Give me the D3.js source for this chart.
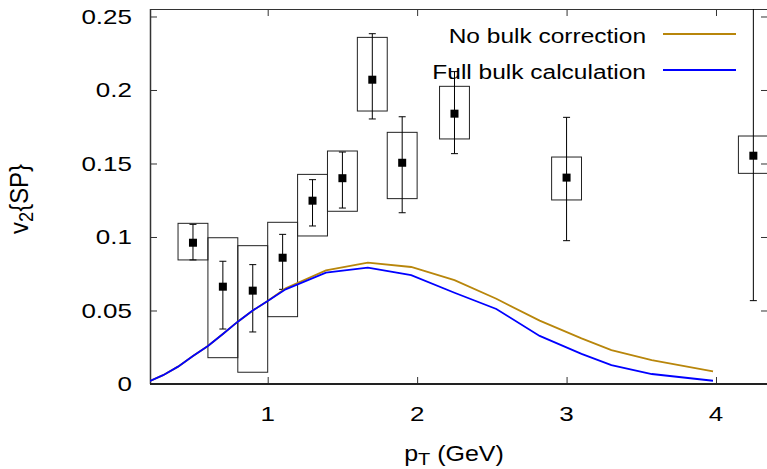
<!DOCTYPE html>
<html><head><meta charset="utf-8">
<script src="https://cdn.jsdelivr.net/npm/d3@7"></script>
<style>body{margin:0;background:#fff} text{font-family:"Liberation Sans",Arial,Helvetica,sans-serif;fill:#000}</style>
</head><body><svg id="c" width="767" height="469"></svg>
<script>
// ---- data ----
const ptData   = [0.5, 0.7, 0.9, 1.1, 1.3, 1.5, 1.7, 1.9, 2.25, 3.0, 4.25];
const v2Data   = [0.0961, 0.0662, 0.0635, 0.0859, 0.1247, 0.1400, 0.2070, 0.1505, 0.1839, 0.1404, 0.1553];
const statLo   = [0.0844, 0.0374, 0.0354, 0.0644, 0.1075, 0.1197, 0.1803, 0.1165, 0.1567, 0.0975, 0.0567];
const statHi   = [0.1086, 0.0835, 0.0812, 0.1018, 0.1390, 0.1578, 0.2383, 0.1818, 0.2125, 0.1814, 0.2700];
const sysLo    = [0.0844, 0.0179, 0.0080, 0.0458, 0.1007, 0.1175, 0.1857, 0.1261, 0.1667, 0.1252, 0.1433];
const sysHi    = [0.1093, 0.0995, 0.0941, 0.1100, 0.1426, 0.1585, 0.2358, 0.1712, 0.2025, 0.1544, 0.1687];
const binHalf  = [0.1, 0.1, 0.1, 0.1, 0.1, 0.1, 0.1, 0.1, 0.1, 0.1, 0.1];

const curvePt   = [0.21, 0.3, 0.4, 0.5, 0.6, 0.7, 0.8, 0.9, 1.0, 1.12, 1.39, 1.67, 1.96, 2.25, 2.53, 2.82, 3.1, 3.3, 3.57, 3.98];
const noBulk    = [0.002, 0.006, 0.0118, 0.019, 0.0259, 0.034, 0.0424, 0.050, 0.0565, 0.0651, 0.0773, 0.0825, 0.0796, 0.0707, 0.058, 0.0431, 0.031, 0.0231, 0.0163, 0.0086];
const fullBulk  = [0.002, 0.006, 0.0118, 0.019, 0.0259, 0.034, 0.0424, 0.050, 0.0565, 0.0644, 0.0757, 0.0791, 0.0741, 0.0621, 0.051, 0.0327, 0.0205, 0.0129, 0.0068, 0.0022];

const seriesNames  = ["No bulk correction", "Full bulk calculation"];
const seriesColors = ["#b8860b", "#0000ff"];

const xTicks = [1, 2, 3, 4];
const xTickLabels = ["1", "2", "3", "4"];
const yTicks = [0, 0.05, 0.1, 0.15, 0.2, 0.25];
const yTickLabels = ["0", "0.05", "0.1", "0.15", "0.2", "0.25"];

// ---- layout ----
const L = 150, R = 768, T = 9, B = 384;
const x = d3.scaleLinear().domain([0.2124, 4.348]).range([L, R]);
const y = d3.scaleLinear().domain([0, 0.2551]).range([B, T]);
const SQ = 0.8; // vertical squash of text

const svg = d3.select("#c");
svg.append("defs").append("clipPath").attr("id", "clip")
  .append("rect").attr("x", L).attr("y", T).attr("width", R - L).attr("height", B - T);

// ticks via axes (inward)
const gAx = svg.append("g");
gAx.append("g").attr("transform", `translate(${L},0)`)
  .call(d3.axisLeft(y).tickValues(yTicks).tickSizeInner(-7).tickSizeOuter(0).tickFormat(""));
gAx.append("g").attr("transform", `translate(${R},0)`)
  .call(d3.axisRight(y).tickValues(yTicks).tickSizeInner(-7).tickSizeOuter(0).tickFormat(""));
gAx.append("g").attr("transform", `translate(0,${B})`)
  .call(d3.axisBottom(x).tickValues(xTicks).tickSizeInner(-7).tickSizeOuter(0).tickFormat(""));
gAx.append("g").attr("transform", `translate(0,${T})`)
  .call(d3.axisTop(x).tickValues(xTicks).tickSizeInner(-7).tickSizeOuter(0).tickFormat(""));
gAx.selectAll(".domain").remove();
gAx.selectAll("line").attr("stroke", "#333").attr("stroke-width", 1);

// frame
svg.append("line").attr("x1", L).attr("x2", R).attr("y1", T + 0.5).attr("y2", T + 0.5).attr("stroke", "#333");
svg.append("line").attr("x1", L + 0.5).attr("x2", L + 0.5).attr("y1", T).attr("y2", B).attr("stroke", "#333").attr("stroke-width", 1.5);
svg.append("line").attr("x1", R - 0.5).attr("x2", R - 0.5).attr("y1", T).attr("y2", B).attr("stroke", "#333");

const plot = svg.append("g").attr("clip-path", "url(#clip)");
const idx = d3.range(ptData.length);

// systematic boxes
plot.selectAll("rect.sys").data(idx).join("rect")
  .attr("x", i => x(ptData[i] - binHalf[i]))
  .attr("width", i => x(ptData[i] + binHalf[i]) - x(ptData[i] - binHalf[i]))
  .attr("y", i => y(sysHi[i]))
  .attr("height", i => y(sysLo[i]) - y(sysHi[i]))
  .attr("fill", "none").attr("stroke", "#222").attr("stroke-width", 1);

// stat error bars
const eb = plot.selectAll("g.eb").data(idx).join("g").attr("stroke", "#000").attr("stroke-width", 1);
eb.append("line").attr("x1", i => x(ptData[i])).attr("x2", i => x(ptData[i]))
  .attr("y1", i => y(statLo[i])).attr("y2", i => y(statHi[i]));
eb.append("line").attr("x1", i => x(ptData[i]) - 3.5).attr("x2", i => x(ptData[i]) + 3.5)
  .attr("y1", i => y(statLo[i])).attr("y2", i => y(statLo[i]));
eb.append("line").attr("x1", i => x(ptData[i]) - 3.5).attr("x2", i => x(ptData[i]) + 3.5)
  .attr("y1", i => y(statHi[i])).attr("y2", i => y(statHi[i]));

// points
plot.selectAll("rect.pt").data(idx).join("rect")
  .attr("x", i => x(ptData[i]) - 4).attr("y", i => y(v2Data[i]) - 4)
  .attr("width", 8).attr("height", 8).attr("fill", "#000");

// curves
const line = d3.line().x(d => x(d[0])).y(d => y(d[1]));
[noBulk, fullBulk].forEach((s, k) => {
  plot.append("path").datum(curvePt.map((p, j) => [p, s[j]]))
    .attr("d", line).attr("fill", "none").attr("stroke", seriesColors[k]).attr("stroke-width", 1.8);
});

// bottom axis line (thicker)
svg.append("line").attr("x1", L).attr("x2", R).attr("y1", B).attr("y2", B).attr("stroke", "#222").attr("stroke-width", 2.2);

// tick labels
yTicks.forEach((v, i) => {
  svg.append("text").attr("transform", `translate(132,${y(v)}) scale(1,${SQ})`)
    .attr("text-anchor", "end").attr("dy", "0.36em").attr("font-size", 26).text(yTickLabels[i]);
});
xTicks.forEach((v, i) => {
  svg.append("text").attr("transform", `translate(${x(v)},421) scale(1,${SQ})`)
    .attr("text-anchor", "middle").attr("font-size", 26).text(xTickLabels[i]);
});

// axis titles
const xl = svg.append("text").attr("transform", `translate(454,461) scale(1,0.85)`)
  .attr("text-anchor", "middle").attr("font-size", 25);
xl.append("tspan").text("p");
xl.append("tspan").attr("font-size", 20).attr("dy", 5).text("T");
xl.append("tspan").attr("dy", -5).text(" (GeV)");

const yl = svg.append("text").attr("transform", `translate(28,199) rotate(-90) scale(0.92,1)`)
  .attr("text-anchor", "middle").attr("font-size", 26);
yl.append("tspan").text("v");
yl.append("tspan").attr("font-size", 20).attr("dy", 5).text("2");
yl.append("tspan").attr("dy", -5).text("{SP}");

// legend
const legY = [34, 70];
seriesNames.forEach((n, k) => {
  svg.append("text").attr("transform", `translate(646,${legY[k] + 8.5}) scale(1,${SQ})`)
    .attr("text-anchor", "end").attr("font-size", 24.5).text(n);
  svg.append("line").attr("x1", 663).attr("x2", 736).attr("y1", legY[k]).attr("y2", legY[k])
    .attr("stroke", seriesColors[k]).attr("stroke-width", 1.8);
});
</script></body></html>
